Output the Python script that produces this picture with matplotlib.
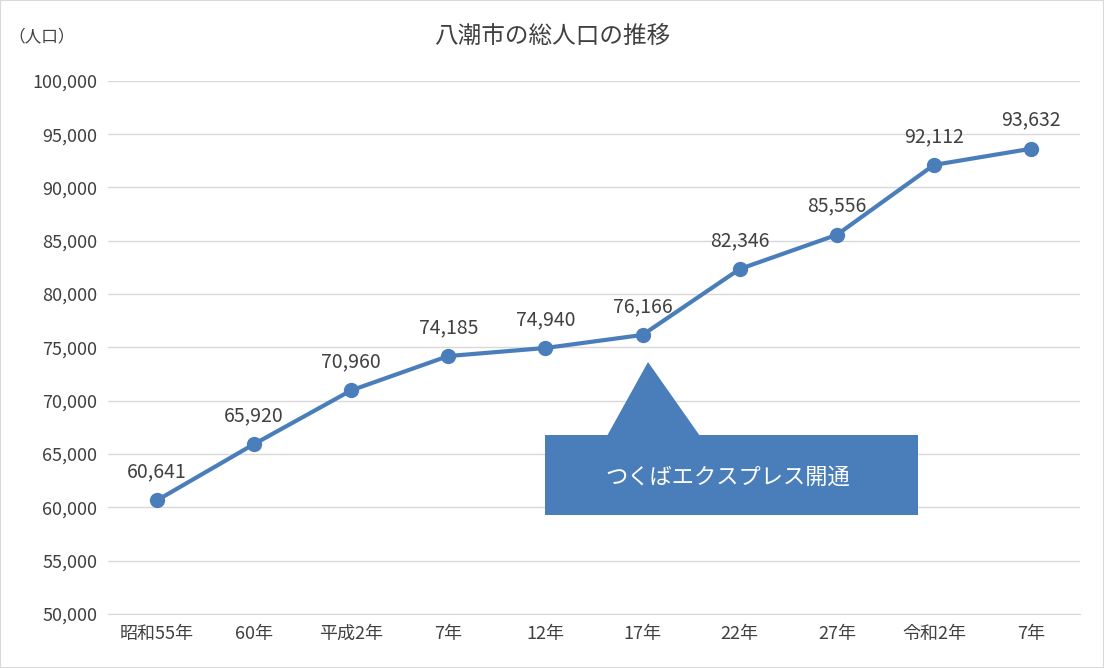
import matplotlib.pyplot as plt
from matplotlib.patches import Polygon, Rectangle

plt.rcParams['font.family'] = ['Noto Sans CJK JP', 'DejaVu Sans']

years = ["昭和55年", "60年", "平成2年", "7年", "12年", "17年", "22年", "27年", "令和2年", "7年"]
population = [60641, 65920, 70960, 74185, 74940, 76166, 82346, 85556, 92112, 93632]

color = "#4A7EBB"

fig = plt.figure(figsize=(11.04, 6.68), dpi=100)
ax = fig.add_axes([0.098, 0.081, 0.880, 0.798])

x = range(len(years))
ax.plot(x, population, color=color, lw=3, marker="o", ms=10, zorder=3)
for i, v in enumerate(population):
    ax.text(i, v + 1700, f"{v:,}", ha="center", va="bottom", fontsize=14, color="#404040")

ax.set_xlim(-0.5, len(years) - 0.5)
ax.set_ylim(50000, 100000)
ax.set_yticks(range(50000, 100001, 5000))
ax.set_yticklabels([f"{v:,}" for v in range(50000, 100001, 5000)])
ax.set_xticks(list(x))
ax.set_xticklabels(years)
ax.tick_params(length=0, labelsize=13, colors="#404040", pad=8)
ax.grid(axis="y", color="#D9D9D9", lw=1)
ax.set_axisbelow(True)
for s in ["top", "right", "left"]:
    ax.spines[s].set_visible(False)
ax.spines["bottom"].set_color("#D9D9D9")

fig.text(0.5, 0.945, "八潮市の総人口の推移", ha="center", va="center", fontsize=17, color="#404040")
fig.text(0.008, 0.945, "（人口）", ha="left", va="center", fontsize=12, color="#404040")

# callout
W, H = 1104, 668
def fp(px, py):
    return (px / W, 1 - py / H)
fig.patches.append(Rectangle(fp(545, 515), 373 / W, 80 / H, transform=fig.transFigure,
                             facecolor=color, edgecolor="none", zorder=5))
fig.patches.append(Polygon([fp(607, 436), fp(648, 362), fp(700, 436)], closed=True,
                           transform=fig.transFigure, facecolor=color, edgecolor="none", zorder=5))
fig.text(*fp(728, 477), "つくばエクスプレス開通", ha="center", va="center",
         fontsize=16, color="white", zorder=6)

fig.patches.append(Rectangle((0, 0), 1, 1, transform=fig.transFigure, fill=False,
                             edgecolor="#D9D9D9", lw=1.5))
fig.savefig("out.png", dpi=100)
